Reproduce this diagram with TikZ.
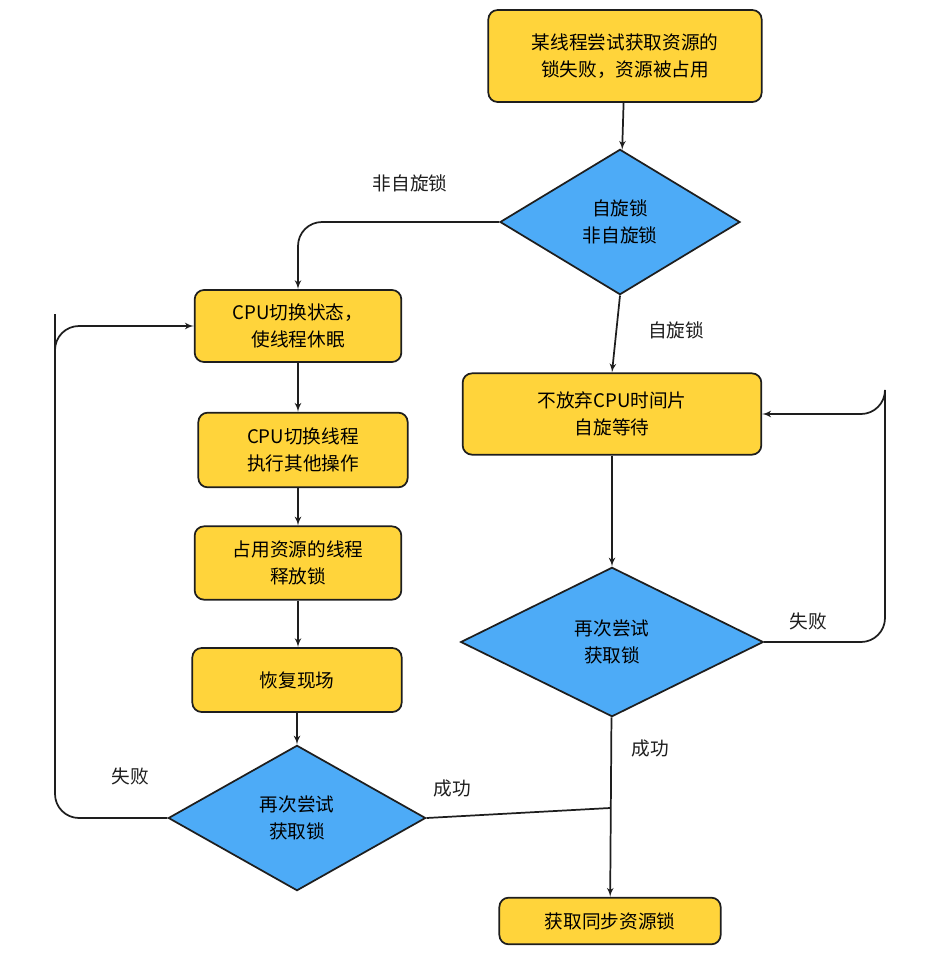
\documentclass[tikz,border=0pt]{standalone}
\usepackage{fontspec}
\setmainfont{Noto Sans CJK SC}
\usetikzlibrary{shapes,arrows,calc}
\definecolor{boxyellow}{HTML}{FFD43B}
\definecolor{diablue}{HTML}{4DABF7}
\definecolor{ink}{HTML}{1E1E1E}
\tikzstyle{line} = [draw=ink, line width=1.3pt, -latex', rounded corners=18pt]
\tikzstyle{block} = [draw=ink, line width=1.3pt, fill=boxyellow, rectangle, rounded corners=7pt, text centered, align=center, inner sep=0pt]
\tikzstyle{decision} = [draw=ink, line width=1.3pt, fill=diablue, diamond, aspect=1.65, align=center, inner sep=0pt]
\tikzstyle{tag} = [text=ink]
\begin{document}
\begin{tikzpicture}[x=0.75pt, y=-0.75pt, font=\fontsize{14}{20}\selectfont]
        \useasboundingbox (0,0) rectangle (933,957);
        \node[block, minimum width=205pt, minimum height=69pt] (fail) at (625,56) {某线程尝试获取资源的\\锁失败，资源被占用};
        \node[decision, minimum width=180pt, minimum height=109pt] (kind) at (620,222) {自旋锁\\非自旋锁};
        \node[block, minimum width=155pt, minimum height=54pt] (sleep) at (298,326) {CPU切换状态，\\使线程休眠};
        \node[block, minimum width=157pt, minimum height=56pt] (switch) at (303,450) {CPU切换线程\\执行其他操作};
        \node[block, minimum width=155pt, minimum height=55pt] (release) at (298,563) {占用资源的线程\\释放锁};
        \node[block, minimum width=157pt, minimum height=48pt] (restore) at (297,680) {恢复现场};
        \node[decision, minimum width=193pt, minimum height=109pt] (retryl) at (297,818) {再次尝试\\获取锁};
        \node[block, minimum width=224pt, minimum height=61pt] (spin) at (612,414) {不放弃CPU时间片\\自旋等待};
        \node[decision, minimum width=227pt, minimum height=112pt] (retryr) at (612,642) {再次尝试\\获取锁};
        \node[block, minimum width=166pt, minimum height=35pt] (lock) at (610,921) {获取同步资源锁};
        \path[line] (fail) -- (kind);
        \path[line] (kind.west) -| (sleep.north);
        \node[tag] at (410,183) {非自旋锁};
        \path[line] (kind.south) -- (spin.north);
        \node[tag] at (676,330) {自旋锁};
        \path[line] (sleep) -- (sleep |- switch.north);
        \path[line] (switch.south -| sleep) -- (sleep |- release.north);
        \path[line] (release) -- (release |- restore.north);
        \path[line] (restore) -- (retryl);
        \path[line] (retryl.west) -| (55,338) |- (sleep.west);
        \node[tag] at (130,776) {失败};
        \path[draw=ink, line width=1.3pt] (retryl.east) -- (lock.north |- 0,808);
        \node[tag] at (452,788) {成功};
        \path[line] (spin) -- (retryr);
        \path[line] (retryr) -- (lock);
        \node[tag] at (650,748) {成功};
        \path[line] (retryr.east) -| (885,408) |- (spin.east);
        \node[tag] at (808,621) {失败};
    \end{tikzpicture}
\end{document}
